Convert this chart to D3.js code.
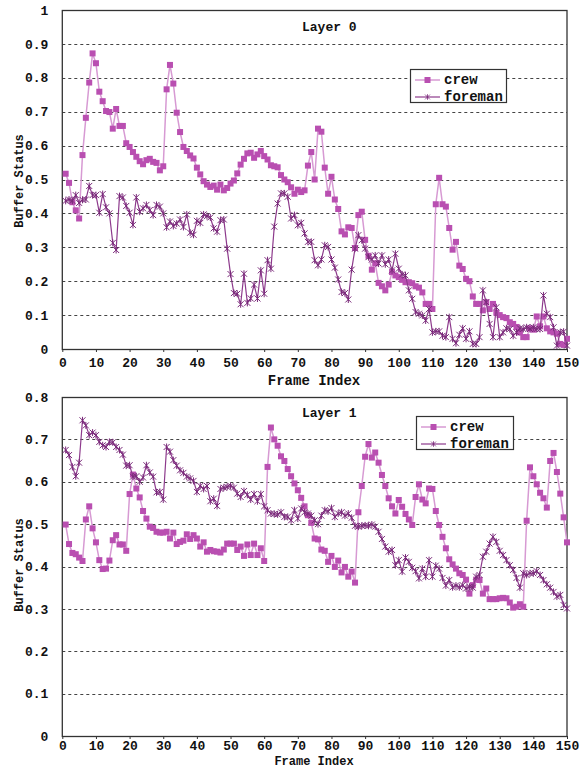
<!DOCTYPE html>
<html>
<head>
<meta charset="utf-8">
<script src="https://cdn.jsdelivr.net/npm/d3@7"></script>
<style>
  body { margin: 0; background: #fff; }
  text { font-family: "Liberation Mono", monospace; font-weight: bold; fill: #111; }
</style>
</head>
<body>
<script>
// Width and height
var w = 581;
var h = 769;

// frame ticks and buffer ticks
var xTicks = [0, 10, 20, 30, 40, 50, 60, 70, 80, 90, 100, 110, 120, 130, 140, 150];
var layer0Ticks = [0, 0.1, 0.2, 0.3, 0.4, 0.5, 0.6, 0.7, 0.8, 0.9, 1];
var layer1Ticks = [0, 0.1, 0.2, 0.3, 0.4, 0.5, 0.6, 0.7, 0.8];
var seriesNames = ["crew", "foreman"];

// buffer status per frame (frames 1..150)
var layer0Crew = [
  0.517, 0.490, 0.433, 0.409, 0.385, 0.572, 0.682, 0.786, 0.872, 0.843,
  0.759, 0.731, 0.702, 0.699, 0.650, 0.708, 0.658, 0.658, 0.607, 0.596,
  0.581, 0.567, 0.554, 0.545, 0.557, 0.561, 0.552, 0.549, 0.527, 0.539,
  0.766, 0.838, 0.783, 0.697, 0.640, 0.596, 0.584, 0.571, 0.562, 0.535,
  0.515, 0.495, 0.485, 0.478, 0.482, 0.470, 0.485, 0.468, 0.475, 0.488,
  0.497, 0.518, 0.544, 0.561, 0.577, 0.579, 0.564, 0.574, 0.584, 0.569,
  0.559, 0.542, 0.539, 0.536, 0.513, 0.500, 0.492, 0.477, 0.458, 0.470,
  0.463, 0.468, 0.541, 0.581, 0.500, 0.650, 0.641, 0.535, 0.458, 0.508,
  0.441, 0.413, 0.347, 0.338, 0.359, 0.357, 0.298, 0.395, 0.405, 0.322,
  0.275, 0.234, 0.253, 0.195, 0.185, 0.173, 0.190, 0.227, 0.217, 0.212,
  0.204, 0.197, 0.197, 0.194, 0.185, 0.181, 0.167, 0.133, 0.133, 0.118,
  0.427, 0.505, 0.427, 0.420, 0.357, 0.293, 0.316, 0.246, 0.236, 0.207,
  0.200, 0.155, 0.133, 0.133, 0.114, 0.138, 0.118, 0.133, 0.107, 0.100,
  0.094, 0.091, 0.079, 0.074, 0.065, 0.049, 0.035, 0.035, 0.061, 0.057,
  0.096, 0.067, 0.096, 0.061, 0.052, 0.049, 0.045, 0.015, 0.012, 0.030
];
var layer0Foreman = [
  0.437, 0.441, 0.437, 0.454, 0.431, 0.440, 0.441, 0.481, 0.454, 0.454,
  0.402, 0.457, 0.418, 0.400, 0.313, 0.292, 0.451, 0.447, 0.422, 0.402,
  0.366, 0.447, 0.405, 0.415, 0.425, 0.410, 0.395, 0.425, 0.420, 0.400,
  0.359, 0.376, 0.363, 0.370, 0.382, 0.360, 0.397, 0.343, 0.337, 0.378,
  0.372, 0.397, 0.392, 0.388, 0.356, 0.346, 0.380, 0.382, 0.296, 0.221,
  0.165, 0.163, 0.132, 0.222, 0.136, 0.149, 0.190, 0.149, 0.232, 0.163,
  0.262, 0.237, 0.361, 0.429, 0.459, 0.459, 0.449, 0.385, 0.395, 0.365,
  0.372, 0.341, 0.316, 0.316, 0.262, 0.247, 0.264, 0.306, 0.301, 0.264,
  0.240, 0.205, 0.168, 0.165, 0.146, 0.234, 0.296, 0.336, 0.321, 0.296,
  0.271, 0.264, 0.276, 0.252, 0.276, 0.250, 0.264, 0.232, 0.281, 0.237,
  0.220, 0.217, 0.173, 0.148, 0.109, 0.104, 0.099, 0.084, 0.118, 0.049,
  0.052, 0.052, 0.039, 0.035, 0.094, 0.030, 0.017, 0.042, 0.061, 0.030,
  0.052, 0.015, 0.015, 0.035, 0.173, 0.138, 0.074, 0.035, 0.123, 0.035,
  0.049, 0.061, 0.059, 0.039, 0.049, 0.061, 0.059, 0.064, 0.059, 0.064,
  0.059, 0.059, 0.158, 0.104, 0.094, 0.064, 0.010, 0.049, 0.051, 0.010
];
var layer1Crew = [
  0.499, 0.453, 0.432, 0.429, 0.421, 0.413, 0.511, 0.542, 0.490, 0.457,
  0.415, 0.394, 0.395, 0.414, 0.462, 0.474, 0.452, 0.452, 0.437, 0.571,
  0.617, 0.584, 0.563, 0.531, 0.513, 0.494, 0.491, 0.482, 0.480, 0.480,
  0.482, 0.466, 0.480, 0.453, 0.458, 0.461, 0.476, 0.465, 0.474, 0.466,
  0.447, 0.457, 0.435, 0.439, 0.436, 0.435, 0.433, 0.440, 0.454, 0.454,
  0.454, 0.439, 0.447, 0.425, 0.452, 0.427, 0.454, 0.427, 0.443, 0.413,
  0.635, 0.728, 0.700, 0.685, 0.660, 0.649, 0.630, 0.613, 0.596, 0.580,
  0.562, 0.542, 0.521, 0.503, 0.466, 0.464, 0.440, 0.437, 0.411, 0.425,
  0.399, 0.414, 0.386, 0.399, 0.376, 0.388, 0.362, 0.528, 0.590, 0.659,
  0.689, 0.657, 0.669, 0.645, 0.616, 0.590, 0.561, 0.542, 0.525, 0.557,
  0.541, 0.524, 0.511, 0.498, 0.564, 0.594, 0.558, 0.549, 0.584, 0.583,
  0.531, 0.498, 0.470, 0.443, 0.417, 0.405, 0.395, 0.384, 0.380, 0.369,
  0.336, 0.356, 0.369, 0.368, 0.336, 0.348, 0.323, 0.323, 0.323, 0.325,
  0.326, 0.325, 0.315, 0.303, 0.305, 0.311, 0.305, 0.508, 0.634, 0.613,
  0.594, 0.574, 0.561, 0.539, 0.649, 0.668, 0.623, 0.572, 0.516, 0.457
];
var layer1Foreman = [
  0.675, 0.663, 0.635, 0.613, 0.645, 0.745, 0.733, 0.710, 0.716, 0.710,
  0.694, 0.686, 0.682, 0.694, 0.693, 0.682, 0.675, 0.664, 0.638, 0.639,
  0.612, 0.613, 0.600, 0.610, 0.639, 0.622, 0.612, 0.575, 0.576, 0.558,
  0.682, 0.671, 0.651, 0.638, 0.627, 0.621, 0.612, 0.608, 0.602, 0.576,
  0.590, 0.583, 0.590, 0.554, 0.560, 0.543, 0.583, 0.586, 0.588, 0.590,
  0.586, 0.572, 0.564, 0.578, 0.569, 0.558, 0.571, 0.554, 0.571, 0.542,
  0.533, 0.525, 0.524, 0.523, 0.528, 0.517, 0.517, 0.509, 0.533, 0.513,
  0.537, 0.528, 0.525, 0.520, 0.509, 0.500, 0.520, 0.533, 0.530, 0.538,
  0.517, 0.525, 0.528, 0.520, 0.525, 0.515, 0.496, 0.494, 0.496, 0.497,
  0.496, 0.499, 0.494, 0.482, 0.465, 0.447, 0.435, 0.439, 0.403, 0.415,
  0.388, 0.421, 0.411, 0.397, 0.389, 0.372, 0.395, 0.376, 0.415, 0.376,
  0.402, 0.395, 0.373, 0.355, 0.368, 0.351, 0.355, 0.351, 0.356, 0.348,
  0.352, 0.350, 0.376, 0.380, 0.423, 0.435, 0.454, 0.470, 0.458, 0.437,
  0.427, 0.415, 0.403, 0.392, 0.373, 0.350, 0.384, 0.380, 0.384, 0.384,
  0.389, 0.380, 0.368, 0.358, 0.350, 0.340, 0.329, 0.333, 0.309, 0.301
];

// colours
var crewLine = "#d79ad3";
var crewMark = "#b94fb1";
var foreLine = "#8d3a8c";
var foreMark = "#7a2a7a";

var svg = d3.select("body")
  .append("svg")
  .attr("width", w)
  .attr("height", h);

// asterisk-like marker used by foreman
var starPath = "M-3,-3L3,3M-3,3L3,-3M0,-3.5L0,3.5";

function drawPanel(p) {
  var x = d3.scaleLinear().domain([0, 150]).range([62.3, 567]);
  var y = d3.scaleLinear().domain([0, p.yMax]).range([p.bottom, p.top]);
  var g = svg.append("g");

  // dashed gridlines
  g.selectAll(".grid")
    .data(p.yTicks.filter(function(d) { return d > 0 && d < p.yMax; }))
    .enter()
    .append("line")
    .attr("x1", x(0))
    .attr("x2", x(150))
    .attr("y1", function(d) { return Math.round(y(d)) + 0.5; })
    .attr("y2", function(d) { return Math.round(y(d)) + 0.5; })
    .attr("stroke", "#444")
    .attr("stroke-width", 1)
    .attr("stroke-dasharray", "3,3");

  // plot frame
  g.append("rect")
    .attr("x", x(0))
    .attr("y", Math.round(y(p.yMax)) + 0.5)
    .attr("width", x(150) - x(0))
    .attr("height", Math.round(y(0)) - Math.round(y(p.yMax)))
    .attr("fill", "none")
    .attr("stroke", "#333")
    .attr("stroke-width", 1.3);

  // x axis
  var xAxis = d3.axisBottom(x)
    .tickValues(xTicks)
    .tickSizeInner(3)
    .tickSizeOuter(0)
    .tickPadding(p.xPad)
    .tickFormat(d3.format("d"));
  var xg = g.append("g")
    .attr("transform", "translate(0," + Math.round(y(0)) + ")")
    .call(xAxis);
  xg.select(".domain").remove();
  xg.selectAll("line").attr("stroke", "#333");
  xg.selectAll("text")
    .style("font-family", "Liberation Mono, monospace")
    .style("font-weight", "bold")
    .style("font-size", "13px")
    .attr("fill", "#111");

  // y axis
  var yAxis = d3.axisLeft(y)
    .tickValues(p.yTicks)
    .tickSize(0)
    .tickPadding(14)
    .tickFormat(function(d) { return (d === 0 || d === 1) ? String(d) : d3.format(".1f")(d); });
  var yg = g.append("g")
    .attr("transform", "translate(" + x(0) + ",0)")
    .call(yAxis);
  yg.select(".domain").remove();
  yg.selectAll("text")
    .style("font-family", "Liberation Mono, monospace")
    .style("font-weight", "bold")
    .style("font-size", "13px")
    .attr("fill", "#111");

  // axis titles
  g.append("text")
    .attr("x", 314)
    .attr("y", p.xTitleY)
    .attr("text-anchor", "middle")
    .style("font-size", p.xTitleSize)
    .text("Frame Index");
  g.append("text")
    .attr("transform", "translate(23," + p.yTitleY + ") rotate(-90)")
    .attr("text-anchor", "middle")
    .style("font-size", "12px")
    .text("Buffer Status");

  // layer label
  g.append("text")
    .attr("x", 302)
    .attr("y", p.layerY)
    .style("font-size", "13px")
    .text(p.layerName);

  // series
  var line = d3.line()
    .x(function(d, i) { return x(i + 1); })
    .y(function(d) { return y(d); });

  g.append("path")
    .datum(p.crew)
    .attr("d", line)
    .attr("fill", "none")
    .attr("stroke", crewLine)
    .attr("stroke-width", 1.5);
  g.selectAll(".crew")
    .data(p.crew)
    .enter()
    .append("rect")
    .attr("x", function(d, i) { return x(i + 1) - 3; })
    .attr("y", function(d) { return y(d) - 3; })
    .attr("width", 6)
    .attr("height", 6)
    .attr("fill", crewMark);

  g.append("path")
    .datum(p.foreman)
    .attr("d", line)
    .attr("fill", "none")
    .attr("stroke", foreLine)
    .attr("stroke-width", 1.2);
  g.selectAll(".fore")
    .data(p.foreman)
    .enter()
    .append("path")
    .attr("transform", function(d, i) { return "translate(" + x(i + 1) + "," + y(d) + ")"; })
    .attr("d", starPath)
    .attr("fill", "none")
    .attr("stroke", foreMark)
    .attr("stroke-width", 1);

  // legend
  var lg = g.append("g").attr("transform", "translate(" + p.legX + "," + p.legY + ")");
  lg.append("rect")
    .attr("x", 0.5)
    .attr("y", 0.5)
    .attr("width", p.legW)
    .attr("height", 33)
    .attr("fill", "#fff")
    .attr("stroke", "#333")
    .attr("stroke-width", 1.2);
  seriesNames.forEach(function(name, k) {
    var ly = 11 + k * 17;
    lg.append("line")
      .attr("x1", 5).attr("x2", 30)
      .attr("y1", ly).attr("y2", ly)
      .attr("stroke", k === 0 ? crewLine : foreLine)
      .attr("stroke-width", k === 0 ? 1.5 : 1.2);
    if (k === 0) {
      lg.append("rect")
        .attr("x", 14.5).attr("y", ly - 3)
        .attr("width", 6).attr("height", 6)
        .attr("fill", crewMark);
    } else {
      lg.append("path")
        .attr("transform", "translate(17.5," + ly + ") scale(0.8)")
        .attr("d", starPath)
        .attr("fill", "none")
        .attr("stroke", foreMark);
    }
    lg.append("text")
      .attr("x", 34)
      .attr("y", ly + 4)
      .style("font-size", "14px")
      .text(name);
  });
}

drawPanel({
  top: 10, bottom: 349, yMax: 1, yTicks: layer0Ticks,
  crew: layer0Crew, foreman: layer0Foreman, xPad: 6,
  xTitleY: 385, xTitleSize: "14px", yTitleY: 181, layerName: "Layer 0", layerY: 31,
  legX: 410, legY: 69, legW: 96
});
drawPanel({
  top: 397, bottom: 736, yMax: 0.8, yTicks: layer1Ticks,
  crew: layer1Crew, foreman: layer1Foreman, xPad: 2,
  xTitleY: 765, xTitleSize: "12px", yTitleY: 565, layerName: "Layer 1", layerY: 417,
  legX: 416, legY: 416, legW: 97
});
</script>
</body>
</html>
